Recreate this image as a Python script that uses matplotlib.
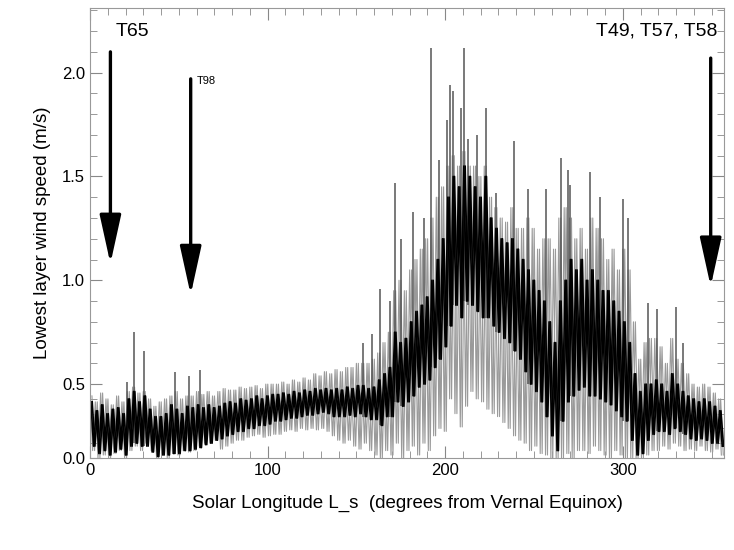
import numpy as np
import matplotlib
matplotlib.use("Agg")
import matplotlib.pyplot as plt
from matplotlib.ticker import MultipleLocator

plt.rcParams['font.family'] = ['Liberation Sans', 'DejaVu Sans']

# solar longitude bins (start of each 3 degree bin)
ls_start = np.arange(0, 357, 3)

# light grey scatter: usual tops and troughs per bin (m/s)
grey_hi = [0.42, 0.38, 0.44, 0.40, 0.36, 0.42, 0.38, 0.45, 0.48, 0.44,
           0.45, 0.40, 0.35, 0.38, 0.40, 0.42, 0.45, 0.40, 0.42, 0.42,
           0.45, 0.43, 0.45, 0.42, 0.45, 0.47, 0.46, 0.46, 0.48, 0.47,
           0.48, 0.49, 0.47, 0.50, 0.50, 0.50, 0.51, 0.50, 0.52, 0.51,
           0.53, 0.52, 0.55, 0.54, 0.56, 0.55, 0.57, 0.56, 0.58, 0.58,
           0.60, 0.60, 0.60, 0.62, 0.65, 0.70, 0.75, 0.95, 1.00, 0.95,
           1.05, 1.10, 1.15, 1.20, 1.30, 1.40, 1.45, 1.55, 1.60, 1.55,
           1.62, 1.55, 1.55, 1.50, 1.55, 1.40, 1.35, 1.30, 1.28, 1.35,
           1.25, 1.25, 1.30, 1.25, 1.15, 1.20, 1.20, 1.15, 1.30, 1.35,
           1.30, 1.20, 1.25, 1.15, 1.30, 1.25, 1.20, 1.10, 1.15, 1.05,
           1.15, 1.05, 0.80, 0.62, 0.70, 0.72, 0.72, 0.68, 0.60, 0.72,
           0.62, 0.60, 0.55, 0.50, 0.48, 0.50, 0.48, 0.44, 0.40]
grey_lo = [0.05, 0.00, 0.02, 0.00, 0.03, 0.05, 0.00, 0.05, 0.08, 0.05,
           0.10, 0.05, 0.00, 0.02, 0.00, 0.03, 0.02, 0.05, 0.04, 0.05,
           0.08, 0.10, 0.10, 0.12, 0.06, 0.08, 0.10, 0.12, 0.12, 0.14,
           0.15, 0.16, 0.14, 0.15, 0.16, 0.16, 0.18, 0.19, 0.18, 0.20,
           0.19, 0.20, 0.19, 0.20, 0.18, 0.15, 0.12, 0.10, 0.12, 0.08,
           0.06, 0.10, 0.05, 0.02, 0.00, 0.05, 0.02, 0.10, 0.00, 0.05,
           0.08, 0.02, 0.10, 0.05, 0.15, 0.20, 0.18, 0.40, 0.30, 0.21,
           0.35, 0.45, 0.40, 0.38, 0.33, 0.30, 0.28, 0.24, 0.20, 0.15,
           0.12, 0.10, 0.05, 0.08, 0.03, 0.02, 0.00, 0.00, 0.00, 0.03,
           0.00, 0.05, 0.05, 0.03, 0.08, 0.05, 0.02, 0.00, 0.05, 0.02,
           0.00, 0.00, 0.00, 0.00, 0.02, 0.05, 0.05, 0.08, 0.06, 0.10,
           0.08, 0.05, 0.06, 0.05, 0.08, 0.05, 0.04, 0.06, 0.02]

# dark core of the signal per bin (m/s)
core_hi = [0.38, 0.32, 0.36, 0.30, 0.33, 0.34, 0.30, 0.40, 0.45, 0.38,
           0.42, 0.33, 0.28, 0.28, 0.30, 0.36, 0.33, 0.30, 0.35, 0.34,
           0.36, 0.34, 0.36, 0.34, 0.35, 0.37, 0.38, 0.37, 0.40, 0.39,
           0.40, 0.42, 0.40, 0.42, 0.43, 0.43, 0.44, 0.43, 0.45, 0.44,
           0.46, 0.45, 0.47, 0.46, 0.47, 0.46, 0.47, 0.46, 0.48, 0.47,
           0.49, 0.49, 0.47, 0.48, 0.52, 0.55, 0.58, 0.75, 0.70, 0.72,
           0.80, 0.85, 0.88, 0.92, 1.00, 1.10, 1.20, 1.40, 1.50, 1.45,
           1.55, 1.50, 1.45, 1.40, 1.50, 1.30, 1.25, 1.20, 1.18, 1.20,
           1.15, 1.10, 1.05, 1.00, 0.95, 0.90, 0.80, 0.70, 0.90, 1.00,
           1.10, 1.05, 1.10, 1.00, 1.05, 1.00, 0.95, 0.95, 0.90, 0.85,
           0.80, 0.70, 0.55, 0.45, 0.50, 0.50, 0.52, 0.50, 0.45, 0.55,
           0.50, 0.45, 0.42, 0.40, 0.38, 0.40, 0.38, 0.35, 0.32]
core_lo = [0.08, 0.03, 0.05, 0.02, 0.04, 0.06, 0.02, 0.08, 0.10, 0.08,
           0.08, 0.04, 0.01, 0.02, 0.02, 0.03, 0.03, 0.05, 0.05, 0.06,
           0.07, 0.09, 0.10, 0.12, 0.13, 0.15, 0.16, 0.18, 0.18, 0.20,
           0.20, 0.22, 0.22, 0.23, 0.25, 0.25, 0.26, 0.27, 0.27, 0.28,
           0.29, 0.29, 0.30, 0.31, 0.30, 0.28, 0.28, 0.28, 0.29, 0.28,
           0.30, 0.28, 0.26, 0.26, 0.22, 0.28, 0.28, 0.38, 0.35, 0.38,
           0.42, 0.48, 0.50, 0.52, 0.58, 0.62, 0.68, 0.78, 0.88, 0.82,
           0.90, 0.88, 0.85, 0.82, 0.82, 0.78, 0.75, 0.72, 0.70, 0.66,
           0.62, 0.56, 0.50, 0.45, 0.38, 0.28, 0.15, 0.05, 0.25, 0.38,
           0.42, 0.46, 0.48, 0.42, 0.42, 0.40, 0.38, 0.36, 0.32, 0.28,
           0.25, 0.12, 0.02, 0.03, 0.12, 0.16, 0.18, 0.18, 0.16, 0.20,
           0.18, 0.16, 0.13, 0.12, 0.13, 0.12, 0.10, 0.10, 0.08]

# isolated tall spikes: Ls and peak speed
spike_ls = [21, 25, 30.5, 48, 56, 62, 153.5, 159, 163.5, 169, 172, 175,
            182, 188, 192, 196.7, 201, 202.5, 204.5, 208.8, 210.7, 213,
            218, 222.8, 228.5, 239, 246.4, 257, 265, 269, 270.4, 281.7,
            287, 300.4, 302.7, 314, 319, 329.7, 334]
spike_top = [0.51, 0.75, 0.66, 0.56, 0.54, 0.57, 0.70, 0.74, 0.96, 0.90,
             1.47, 1.20, 1.33, 1.30, 2.12, 1.58, 1.77, 1.94, 1.91, 1.83,
             2.12, 1.68, 1.70, 1.83, 1.42, 1.67, 1.44, 1.44, 1.59, 1.53,
             1.46, 1.52, 1.40, 1.39, 1.30, 0.89, 0.86, 0.87, 0.70]

# arrows marking the lander events
arrow_ls = [11.5, 56.7, 349.5]
arrow_top = [2.10, 1.97, 2.07]
arrow_tip = [1.08, 0.93, 0.97]


# y axis of the original is squeezed below 0.5
def fwd(v):
    v = np.asarray(v, dtype=float)
    return np.where(v >= 0.5, v, 0.5 - (0.5 - v) * 0.7115)


def inv(u):
    u = np.asarray(u, dtype=float)
    return np.where(u >= 0.5, u, 0.5 - (0.5 - u) / 0.7115)


fig = plt.figure(figsize=(7.34, 5.5), dpi=100)
ax = fig.add_axes([0.1226, 0.1673, 0.8638, 0.8177])
ax.set_yscale('function', functions=(fwd, inv))

# zig-zag traces through the bin extremes, two phases each
for ph in (0.0, 1.1):
    xg = np.column_stack([ls_start + ph, ls_start + ph + 1.5]).ravel()
    yg = np.column_stack([grey_hi, grey_lo]).ravel()
    ax.plot(xg, yg, color='#9a9a9a', lw=0.8)

spike_bin = np.clip((np.array(spike_ls) // 3).astype(int), 0, len(ls_start) - 1)
ax.vlines(spike_ls, np.array(core_lo)[spike_bin], spike_top, color='#555555', lw=1.1)

for ph in (0.5, 1.25):
    xb = np.column_stack([ls_start + ph, ls_start + ph + 1.5]).ravel()
    yb = np.column_stack([core_hi, core_lo]).ravel()
    ax.plot(xb, yb, color='black', lw=1.2)

for xa, yt, yp in zip(arrow_ls, arrow_top, arrow_tip):
    ax.annotate('', xy=(xa, yp), xytext=(xa, yt),
                arrowprops=dict(arrowstyle='-|>,head_length=1.5,head_width=0.33',
                                mutation_scale=20, lw=2.4, color='black',
                                shrinkA=0, shrinkB=0))

ax.text(14.5, 2.20, 'T65', fontsize=14, va='center', ha='left')
ax.text(60, 1.96, 'T98', fontsize=8, va='center', ha='left')
ax.text(353, 2.20, 'T49, T57, T58', fontsize=14, va='center', ha='right')

ax.set_xlim(0, 357)
ax.set_ylim(0, 2.31)
ax.xaxis.set_major_locator(MultipleLocator(100))
ax.xaxis.set_minor_locator(MultipleLocator(10))
ax.yaxis.set_major_locator(MultipleLocator(0.5))
ax.yaxis.set_minor_locator(MultipleLocator(0.1))
ax.yaxis.set_major_formatter(plt.FormatStrFormatter('%.1f'))
ax.tick_params(which='both', direction='in', top=True, right=True,
               color='#888888', labelsize=12)
ax.tick_params(which='major', length=8.5)
ax.tick_params(which='minor', length=5)
for sp in ax.spines.values():
    sp.set_color('#999999')

ax.set_xlabel('Solar Longitude L_s  (degrees from Vernal Equinox)', fontsize=13.5, labelpad=12)
ax.set_ylabel('Lowest layer wind speed (m/s)', fontsize=13.5, labelpad=8)

fig.savefig('out.png', dpi=100)
